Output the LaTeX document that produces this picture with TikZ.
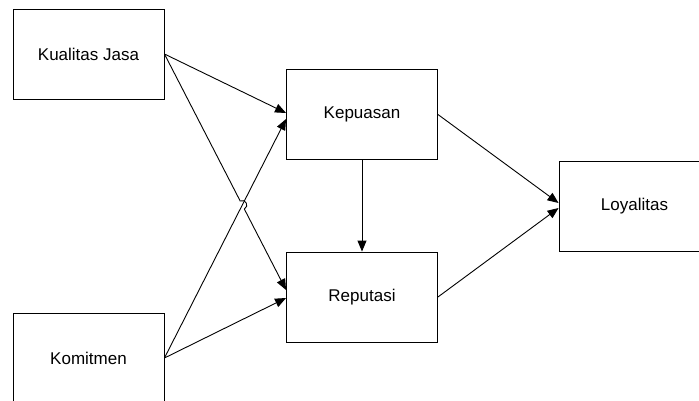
\documentclass[tikz,border=0pt]{standalone}
\usepackage{fontspec}
\setmainfont{Liberation Sans}
\usetikzlibrary{arrows.meta,calc}

\tikzset{
    varbox/.style={draw, rectangle, line width=0.9pt, minimum width=151pt, minimum height=90pt,
        font=\fontsize{17}{20}\selectfont},
    arr/.style={line width=0.9pt, -{Triangle[length=11pt,width=9pt]}}
}

\begin{document}
\begin{tikzpicture}[x=1pt, y=-1pt]
    \clip (0,0) rectangle (699,401);
    % Nodes
    \node (kualitas) [varbox] at (88.5,54) {Kualitas Jasa};
    \node (komitmen) [varbox] at (88.5,358) {Komitmen};
    \node (kepuasan) [varbox] at (362,114.5) {Kepuasan};
    \node (reputasi) [varbox] at (362,297) {Reputasi};
    \node (loyalitas) [varbox] at (634.5,206) {Loyalitas};

    % Hop where two lines cross
    \coordinate (hopa) at ($(kualitas.east)!0.623!([yshift=7pt]reputasi.west)$);
    \coordinate (hopb) at ($(kualitas.east)!0.657!([yshift=7pt]reputasi.west)$);

    % Arrows
    \draw[arr] (kualitas.east) -- ([yshift=1.5pt]kepuasan.west);
    \draw[arr] (kualitas.east) -- (hopa) .. controls +(5.3,-2.8) and +(5.3,-2.8) .. (hopb)
        -- ([yshift=7pt]reputasi.west);
    \draw[arr] (komitmen.east) -- ([yshift=-4.5pt]kepuasan.west);
    \draw[arr] (komitmen.east) -- ([yshift=-1pt]reputasi.west);
    \draw[arr] (kepuasan.south) -- (reputasi.north);
    \draw[arr] (kepuasan.east) -- ([yshift=3pt]loyalitas.west);
    \draw[arr] (reputasi.east) -- ([yshift=-2pt]loyalitas.west);
\end{tikzpicture}
\end{document}
